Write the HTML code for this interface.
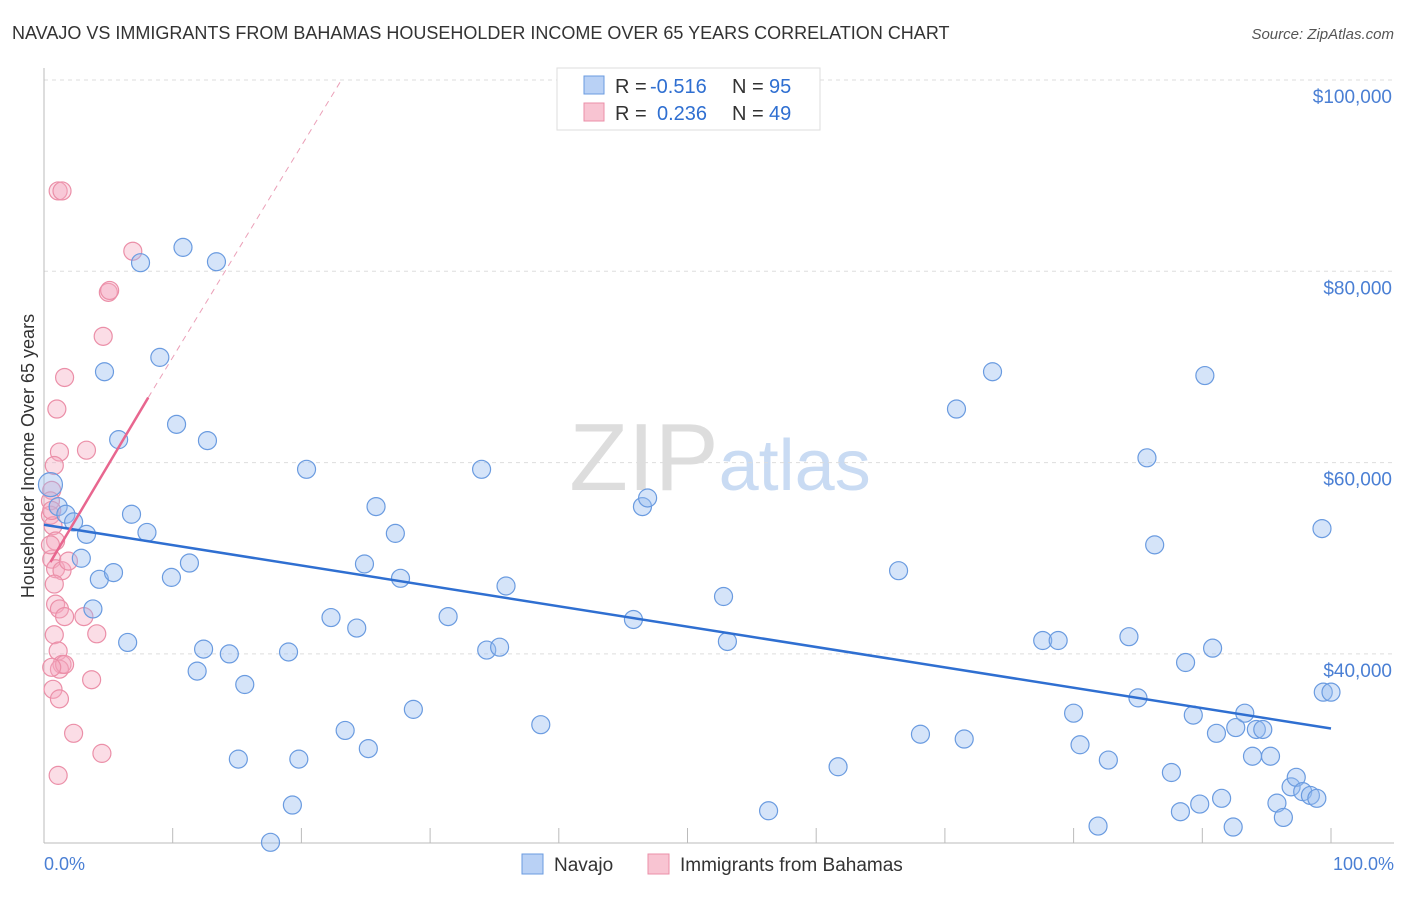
<!DOCTYPE html>
<html><head><meta charset="utf-8"><style>
body{margin:0;background:#fff;font-family:"Liberation Sans",sans-serif}
svg text{font-family:"Liberation Sans",sans-serif}
</style></head><body>
<svg id="c" width="1406" height="892">
<text x="12" y="39" font-size="18" fill="#333">NAVAJO VS IMMIGRANTS FROM BAHAMAS HOUSEHOLDER INCOME OVER 65 YEARS CORRELATION CHART</text>
<text x="1394" y="39" font-size="15" fill="#555" font-style="italic" text-anchor="end">Source: ZipAtlas.com</text>
<text x="720" y="490" font-size="96" fill="#ddd" text-anchor="middle" font-family="Liberation Serif">ZIP<tspan fill="#c9dbf3" font-family="Liberation Sans" font-size="72">atlas</tspan></text>
<g id="grid"></g><g id="axes"></g><g id="pts"></g><g id="trend"></g>
<text transform="translate(34,456) rotate(-90)" font-size="18" fill="#333" text-anchor="middle">Householder Income Over 65 years</text>
<text x="44" y="870" font-size="18" fill="#4a7fd4">0.0%</text>
<text x="1394" y="870" font-size="18" fill="#4a7fd4" text-anchor="end">100.0%</text>
<g>
<rect x="557" y="68" width="263" height="62" fill="#fff" stroke="#ddd"/>
<rect x="584" y="76" width="20" height="18" fill="#b9d1f5" stroke="#6a9be0"/>
<rect x="584" y="103" width="20" height="18" fill="#f8c4d2" stroke="#eb8fa8"/>
<text x="615" y="93" font-size="20" fill="#333">R =</text>
<text x="650" y="93" font-size="20" fill="#2f6fd1">-0.516</text>
<text x="732" y="93" font-size="20" fill="#333">N =</text>
<text x="769" y="93" font-size="20" fill="#2f6fd1">95</text>
<text x="615" y="120" font-size="20" fill="#333">R =</text>
<text x="657" y="120" font-size="20" fill="#2f6fd1">0.236</text>
<text x="732" y="120" font-size="20" fill="#333">N =</text>
<text x="769" y="120" font-size="20" fill="#2f6fd1">49</text>
</g>
<g>
<rect x="522" y="854" width="21" height="20" fill="#b9d1f5" stroke="#6a9be0"/>
<text x="554" y="871" font-size="19" fill="#333">Navajo</text>
<rect x="648" y="854" width="21" height="20" fill="#f8c4d2" stroke="#eb8fa8"/>
<text x="680" y="871" font-size="19" fill="#333">Immigrants from Bahamas</text>
</g>
</svg>
<script>
const yTicks=[100000,80000,60000,40000];
const yTickLabels=["$100,000","$80,000","$60,000","$40,000"];
const navajoX=[0.5,1.1,1.7,2.3,3.3,2.9,3.8,4.3,5.4,4.7,5.8,6.5,6.8,7.5,8,9,9.9,10.3,10.8,11.3,11.9,12.4,12.7,13.4,14.4,15.1,15.6,17.6,19,19.3,19.8,20.4,22.3,23.4,24.3,24.9,25.2,25.8,27.3,27.7,28.7,31.4,34,34.4,35.4,35.9,38.6,45.8,46.5,46.9,52.8,53.1,56.3,61.7,66.4,68.1,70.9,71.5,73.7,77.6,78.8,80,80.5,81.9,82.7,84.3,85,85.7,86.3,87.6,88.3,88.7,89.3,89.8,90.2,90.8,91.1,91.5,92.4,92.6,93.3,93.9,94.2,94.7,95.3,95.8,96.3,96.9,97.3,97.8,98.4,98.9,99.4,99.3,100];
const navajoY=[57.7,55.4,54.6,53.8,52.5,50,44.7,47.8,48.5,69.5,62.4,41.2,54.6,80.9,52.7,71,48,64,82.5,49.5,38.2,40.5,62.3,81,40,29,36.8,20.3,40.2,24.2,29,59.3,43.8,32,42.7,49.4,30.1,55.4,52.6,47.9,34.2,43.9,59.3,40.4,40.7,47.1,32.6,43.6,55.4,56.3,46,41.3,23.6,28.2,48.7,31.6,65.6,31.1,69.5,41.4,41.4,33.8,30.5,22,28.9,41.8,35.4,60.5,51.4,27.6,23.5,39.1,33.6,24.3,69.1,40.6,31.7,24.9,21.9,32.3,33.8,29.3,32.1,32.1,29.3,24.4,22.9,26.1,27.1,25.6,25.2,24.9,36,53.1,36];
const bahamasX=[1.1,1.4,6.9,5,5.1,4.6,1.6,1,3.3,1.2,0.8,0.6,0.5,0.5,0.7,0.9,0.6,0.9,1.4,1.9,0.9,1.2,1.6,3.1,4.1,0.8,1.1,1.4,1.2,1.6,0.6,3.7,0.7,1.2,2.3,4.5,1.1,0.6,0.5,0.8];
const bahamasY=[88.4,88.4,82.1,77.8,78,73.2,68.9,65.6,61.3,61.1,59.7,57.1,56,54.5,53.4,51.8,49.9,48.9,48.7,49.7,45.2,44.7,43.9,43.9,42.1,42,40.3,38.9,38.4,38.9,38.6,37.3,36.3,35.3,31.7,29.6,27.3,55,51.4,47.3];
const X=p=>44+p*12.87;
const Y=v=>80+(100-v)*191.3/20;
const svgNS="http://www.w3.org/2000/svg";
function mk(t,a,parent){const e=document.createElementNS(svgNS,t);for(const k in a)e.setAttribute(k,a[k]);document.getElementById(parent).appendChild(e);return e;}
yTicks.forEach((t,i)=>{
 const l=mk('line',{x1:44,x2:1394,y1:Y(t/1000),y2:Y(t/1000),stroke:'#ddd','stroke-dasharray':'4,4'},'grid');
 
 
 const tx=mk('text',{x:1392,y:Y(t/1000)+23,'font-size':19,fill:'#4a7fd4','text-anchor':'end'},'grid');
 tx.textContent=yTickLabels[i];
 
 
});
const ax=mk('line',{x1:44,x2:44,y1:68,y2:843,stroke:'#bbb'},'axes');


const bx=mk('line',{x1:44,x2:1394,y1:843,y2:843,stroke:'#bbb'},'axes');


for(let i=1;i<=10;i++){
 const t=mk('line',{x1:X(i*10),x2:X(i*10),y1:828,y2:843,stroke:'#bbb'},'axes');
 
 
}
function dots(xs,ys,fill,stroke,name){xs.forEach((x,i)=>{
 const c=mk('circle',{cx:X(x),cy:Y(ys[i]),r:i===0&&name==='navajo-point'?12:9,fill:fill,stroke:stroke,'stroke-width':1.2},'pts');
 
 
});}
dots(bahamasX,bahamasY,'rgba(245,170,192,0.4)','#eb8fa8','bahamas-point');
dots(navajoX,navajoY,'rgba(150,188,240,0.4)','#6a9be0','navajo-point');
const t1=mk('line',{x1:X(0),y1:Y(53.5),x2:X(100),y2:Y(32.2),stroke:'#2f6fd1','stroke-width':2.5},'trend');


const t2=mk('line',{x1:X(0.5),y1:Y(49.6),x2:X(8.1),y2:Y(66.8),stroke:'#e8668f','stroke-width':2.5},'trend');


const t3=mk('line',{x1:X(8.1),y1:Y(66.8),x2:X(23.2),y2:Y(100.2),stroke:'#eba0b8','stroke-width':1,'stroke-dasharray':'6,5'},'trend');


</script>
</body></html>
